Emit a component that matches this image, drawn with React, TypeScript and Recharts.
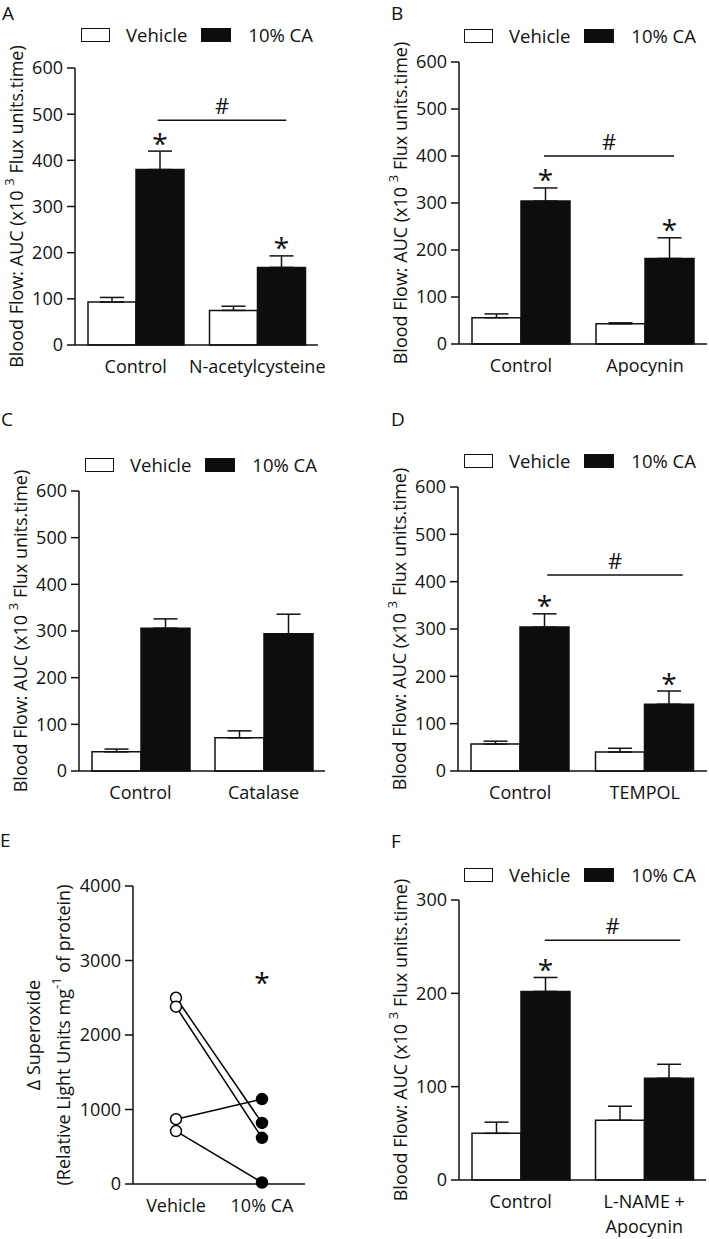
import React from 'react';
import {
  ComposedChart,
  Bar,
  XAxis,
  YAxis,
  ErrorBar,
  ReferenceLine,
  ReferenceDot,
  Legend,
  LineChart,
  Line,
} from 'recharts';

const FONT = '"Open Sans", "Liberation Sans", sans-serif';
const INK = '#111';
const BAR_BLACK = '#0d0d0d';

// ---------- Panel A ----------
const aGroups = ['Control', 'N-acetylcysteine'];
const aVehicle = [93, 75];
const aVehicleErr = [10, 9];
const aCA = [380, 168];
const aCAErr = [40, 25];
const aCAStar = [true, true];
const aHashY = 487;

// ---------- Panel B ----------
const bGroups = ['Control', 'Apocynin'];
const bVehicle = [56, 43];
const bVehicleErr = [8, 2];
const bCA = [304, 182];
const bCAErr = [28, 44];
const bCAStar = [true, true];
const bHashY = 400;

// ---------- Panel C ----------
const cGroups = ['Control', 'Catalase'];
const cVehicle = [41, 71];
const cVehicleErr = [6, 15];
const cCA = [306, 294];
const cCAErr = [20, 42];
const cCAStar = [false, false];

// ---------- Panel D ----------
const dGroups = ['Control', 'TEMPOL'];
const dVehicle = [57, 40];
const dVehicleErr = [6, 8];
const dCA = [304, 141];
const dCAErr = [28, 28];
const dCAStar = [true, true];
const dHashY = 414;

// ---------- Panel E ----------
const eConditions = ['Vehicle', '10% CA'];
const eVehiclePts = [2500, 2380, 870, 710];
const eCAPts = [820, 620, 1140, 20];
const eStarY = 2780;

// ---------- Panel F ----------
const fGroups = ['Control', 'L-NAME +\nApocynin'];
const fVehicle = [50, 64];
const fVehicleErr = [12, 15];
const fCA = [202, 109];
const fCAErr = [15, 15];
const fCAStar = [true, false];
const fHashY = 257;

const ticks600 = [0, 100, 200, 300, 400, 500, 600];
const ticks300 = [0, 100, 200, 300];
const ticks4000 = [0, 1000, 2000, 3000, 4000];

const AXIS_W = 60;
const XAXIS_H = 30;

const axisLineStyle = { stroke: INK, strokeWidth: 1.5 };

const MultiTick = (props: any) => {
  const { x, y, payload } = props;
  const lines = String(payload.value).split('\n');
  return (
    <text x={x} y={y} textAnchor="middle" fontSize={18} fontFamily={FONT} fill={INK}>
      {lines.map((l, i) => (
        <tspan key={i} x={x} dy={i === 0 ? '0.71em' : 25}>
          {l}
        </tspan>
      ))}
    </text>
  );
};

const makeStarLabel = (values: number[], errs: number[], stars: boolean[]) => (props: any) => {
  const vb = props.viewBox && props.viewBox.width != null ? props.viewBox : props;
  let idx = props.index;
  if (idx == null) {
    const v = Array.isArray(props.value) ? props.value[1] : props.value;
    idx = values.indexOf(v);
  }
  if (idx == null || idx < 0 || !stars[idx]) return null;
  const { x, y, width, height } = vb;
  const v = values[idx];
  const pxPer = height / v;
  const errTop = y + height - (v + errs[idx]) * pxPer;
  const cx = x + width / 2;
  const fs = 28;
  return (
    <text key={`star-${idx}`} x={cx} y={errTop - 14 + 0.59 * fs} textAnchor="middle" fontSize={fs} fontFamily={FONT} fill={INK}>
      *
    </text>
  );
};

const makeHashShape = (startOff: number, endOff: number) => (props: any) => {
  const { x1, y1, x2 } = props;
  const a = x1 + startOff;
  const b = x2 + endOff;
  return (
    <g>
      <line x1={a} y1={y1} x2={b} y2={y1} stroke={INK} strokeWidth={1.5} />
      <text x={(a + b) / 2} y={y1 - 6} textAnchor="middle" fontSize={22} fontFamily={FONT} fill={INK}>
        #
      </text>
    </g>
  );
};

const LegendContent = () => (
  <div style={{ display: 'flex', alignItems: 'center', fontFamily: FONT, fontSize: 18.5, color: INK, lineHeight: '20px', height: 20, whiteSpace: 'nowrap' }}>
    <span style={{ display: 'inline-block', width: 29, height: 14, border: '1.5px solid #111', background: '#fff', boxSizing: 'border-box' }} />
    <span style={{ marginLeft: 16 }}>Vehicle</span>
    <span style={{ display: 'inline-block', marginLeft: 14, width: 30, height: 14, border: '1.5px solid #111', background: BAR_BLACK, boxSizing: 'border-box' }} />
    <span style={{ marginLeft: 17 }}>10% CA</span>
  </div>
);

type BarPanelProps = {
  groups: string[];
  veh: number[];
  vehErr: number[];
  ca: number[];
  caErr: number[];
  stars: boolean[];
  hashY?: number;
  hashStartOff?: number;
  hashEndOff?: number;
  yTicks: number[];
  width: number;
  height: number;
  plotLeft: number;
  plotTop: number;
  plotRight: number;
  plotBottom: number;
  barSize: number;
  legendLeft: number;
  legendMid: number;
};

const BarPanel = (p: BarPanelProps) => {
  const data = p.groups.map((g, i) => ({
    group: g,
    veh: p.veh[i],
    vehErr: [0, p.vehErr[i]],
    ca: p.ca[i],
    caErr: [0, p.caErr[i]],
  }));
  const margin = {
    top: p.plotTop,
    left: p.plotLeft - AXIS_W,
    right: p.width - p.plotRight,
    bottom: p.height - p.plotBottom - XAXIS_H,
  };
  const yMax = p.yTicks[p.yTicks.length - 1];
  const labelX = p.plotLeft - 59;
  const labelY = (p.plotTop + p.plotBottom) / 2;
  const yLabel = () => (
    <text
      x={labelX}
      y={labelY}
      transform={`rotate(-90 ${labelX} ${labelY})`}
      textAnchor="middle"
      dominantBaseline="central"
      fontSize={18}
      fontFamily={FONT}
      fill={INK}
    >
      Blood Flow: AUC (x10{' '}
      <tspan dy={-7} fontSize={13}>3</tspan>
      <tspan dy={7}> Flux units.time)</tspan>
    </text>
  );
  return (
    <ComposedChart width={p.width} height={p.height} data={data} margin={margin} barGap={0} barSize={p.barSize}>
      <XAxis
        dataKey="group"
        height={XAXIS_H}
        axisLine={axisLineStyle}
        tickLine={false}
        tickSize={0}
        tickMargin={15}
        tick={<MultiTick />}
        interval={0}
      />
      <YAxis
        width={AXIS_W}
        domain={[0, yMax]}
        ticks={p.yTicks}
        interval={0}
        axisLine={axisLineStyle}
        tickLine={axisLineStyle}
        tickSize={8}
        tickMargin={4}
        tick={{ fontSize: 18, fontFamily: FONT, fill: INK }}
        label={{ content: yLabel }}
      />
      <Legend
        verticalAlign="middle"
        align="center"
        layout="horizontal"
        content={LegendContent}
        wrapperStyle={{ left: p.legendLeft, top: p.legendMid - 10, width: 'auto', height: 20 }}
      />
      <Bar dataKey="veh" name="Vehicle" fill="#fff" stroke={INK} strokeWidth={1.5} isAnimationActive={false}>
        <ErrorBar dataKey="vehErr" width={12} stroke={INK} strokeWidth={1.5} direction="y" />
      </Bar>
      <Bar
        dataKey="ca"
        name="10% CA"
        fill={BAR_BLACK}
        stroke={INK}
        strokeWidth={1.5}
        isAnimationActive={false}
        label={makeStarLabel(p.ca, p.caErr, p.stars)}
      >
        <ErrorBar dataKey="caErr" width={12} stroke={INK} strokeWidth={1.5} direction="y" />
      </Bar>
      {p.hashY != null && (
        <ReferenceLine
          segment={[
            { x: p.groups[0], y: p.hashY },
            { x: p.groups[1], y: p.hashY },
          ]}
          ifOverflow="visible"
          shape={makeHashShape(p.hashStartOff || 0, p.hashEndOff || 0)}
        />
      )}
    </ComposedChart>
  );
};

const eDot = (props: any) => {
  const { cx, cy, index, dataKey } = props;
  return (
    <circle
      key={`${dataKey}-${index}`}
      cx={cx}
      cy={cy}
      r={5.5}
      fill={index === 0 ? '#fff' : '#000'}
      stroke="#000"
      strokeWidth={1.5}
    />
  );
};

const PanelE = () => {
  const data = eConditions.map((c, ci) => {
    const row: any = { cond: c };
    const src = ci === 0 ? eVehiclePts : eCAPts;
    src.forEach((v, i) => {
      row[`p${i}`] = v;
    });
    return row;
  });
  const W = 354;
  const H = 409;
  const plotLeft = 133;
  const plotTop = 56;
  const plotRight = 305;
  const plotBottom = 354;
  const margin = { top: plotTop, left: plotLeft - AXIS_W, right: W - plotRight, bottom: H - plotBottom - XAXIS_H };
  const cy = (plotTop + plotBottom) / 2;
  const x1 = plotLeft - 100;
  const x2 = plotLeft - 70;
  const yLabel = () => (
    <g>
      <text x={x1} y={cy} transform={`rotate(-90 ${x1} ${cy})`} textAnchor="middle" dominantBaseline="central" fontSize={18} fontFamily={FONT} fill={INK}>
        Δ Superoxide
      </text>
      <text x={x2} y={cy} transform={`rotate(-90 ${x2} ${cy})`} textAnchor="middle" dominantBaseline="central" fontSize={18} fontFamily={FONT} fill={INK}>
        (Relative Light Units mg
        <tspan dy={-7} fontSize={13}>-1</tspan>
        <tspan dy={7}> of protein)</tspan>
      </text>
    </g>
  );
  const starContent = (props: any) => {
    const vb = props.viewBox || {};
    const x = vb.x + (vb.width || 0) / 2;
    const y = vb.y + (vb.height || 0) / 2;
    const fs = 28;
    return (
      <text x={x} y={y + 0.59 * fs} textAnchor="middle" fontSize={fs} fontFamily={FONT} fill={INK}>
        *
      </text>
    );
  };
  return (
    <LineChart width={W} height={H} data={data} margin={margin}>
      <XAxis
        dataKey="cond"
        height={XAXIS_H}
        axisLine={axisLineStyle}
        tickLine={false}
        tickSize={0}
        tickMargin={15}
        tick={<MultiTick />}
        interval={0}
        padding={{ left: 43, right: 43 }}
      />
      <YAxis
        width={AXIS_W}
        domain={[0, 4000]}
        ticks={ticks4000}
        interval={0}
        axisLine={axisLineStyle}
        tickLine={axisLineStyle}
        tickSize={8}
        tickMargin={4}
        tick={{ fontSize: 18, fontFamily: FONT, fill: INK }}
        label={{ content: yLabel }}
      />
      {eVehiclePts.map((_, i) => (
        <Line
          key={i}
          dataKey={`p${i}`}
          stroke="#000"
          strokeWidth={1.5}
          dot={eDot}
          activeDot={false}
          isAnimationActive={false}
        />
      ))}
      <ReferenceDot x="10% CA" y={eStarY} r={0.01} fill="none" stroke="none" label={{ content: starContent }} />
    </LineChart>
  );
};

const PanelLetter = ({ text, left, capTop }: { text: string; left: number; capTop: number }) => (
  <div
    style={{
      position: 'absolute',
      left,
      top: capTop - 3.3,
      fontFamily: FONT,
      fontSize: 19,
      lineHeight: '19px',
      color: INK,
    }}
  >
    {text}
  </div>
);

const Frame = ({ left, top, children }: { left: number; top: number; children: React.ReactNode }) => (
  <div style={{ position: 'absolute', left, top }}>{children}</div>
);

export default function App() {
  return (
    <div style={{ position: 'absolute', left: 0, top: 0, width: 709, height: 1239, background: '#fff', overflow: 'hidden' }}>
      <Frame left={0} top={0}>
        <BarPanel
          groups={aGroups}
          veh={aVehicle}
          vehErr={aVehicleErr}
          ca={aCA}
          caErr={aCAErr}
          stars={aCAStar}
          hashY={aHashY}
          hashStartOff={22}
          hashEndOff={29}
          yTicks={ticks600}
          width={354}
          height={415}
          plotLeft={75}
          plotTop={68}
          plotRight={318}
          plotBottom={345}
          barSize={48}
          legendLeft={81}
          legendMid={35}
        />
      </Frame>
      <Frame left={354} top={0}>
        <BarPanel
          groups={bGroups}
          veh={bVehicle}
          vehErr={bVehicleErr}
          ca={bCA}
          caErr={bCAErr}
          stars={bCAStar}
          hashY={bHashY}
          hashStartOff={23}
          hashEndOff={29}
          yTicks={ticks600}
          width={355}
          height={415}
          plotLeft={105}
          plotTop={62}
          plotRight={353}
          plotBottom={344}
          barSize={49}
          legendLeft={110}
          legendMid={35.5}
        />
      </Frame>
      <Frame left={0} top={415}>
        <BarPanel
          groups={cGroups}
          veh={cVehicle}
          vehErr={cVehicleErr}
          ca={cCA}
          caErr={cCAErr}
          stars={cCAStar}
          yTicks={ticks600}
          width={354}
          height={415}
          plotLeft={79}
          plotTop={76}
          plotRight={325}
          plotBottom={356}
          barSize={49}
          legendLeft={85}
          legendMid={49.5}
        />
      </Frame>
      <Frame left={354} top={415}>
        <BarPanel
          groups={dGroups}
          veh={dVehicle}
          vehErr={dVehicleErr}
          ca={dCA}
          caErr={dCAErr}
          stars={dCAStar}
          hashY={dHashY}
          hashStartOff={27}
          hashEndOff={38}
          yTicks={ticks600}
          width={355}
          height={415}
          plotLeft={104}
          plotTop={72}
          plotRight={353}
          plotBottom={356}
          barSize={49}
          legendLeft={110}
          legendMid={46}
        />
      </Frame>
      <Frame left={0} top={830}>
        <PanelE />
      </Frame>
      <Frame left={354} top={830}>
        <BarPanel
          groups={fGroups}
          veh={fVehicle}
          vehErr={fVehicleErr}
          ca={fCA}
          caErr={fCAErr}
          stars={fCAStar}
          hashY={fHashY}
          hashStartOff={24}
          hashEndOff={36}
          yTicks={ticks300}
          width={355}
          height={409}
          plotLeft={105}
          plotTop={70}
          plotRight={352}
          plotBottom={350}
          barSize={49}
          legendLeft={110}
          legendMid={44.5}
        />
      </Frame>
      <PanelLetter text="A" left={2} capTop={7} />
      <PanelLetter text="B" left={391} capTop={7} />
      <PanelLetter text="C" left={1} capTop={413} />
      <PanelLetter text="D" left={391} capTop={413} />
      <PanelLetter text="E" left={0} capTop={834} />
      <PanelLetter text="F" left={391} capTop={835} />
    </div>
  );
}
